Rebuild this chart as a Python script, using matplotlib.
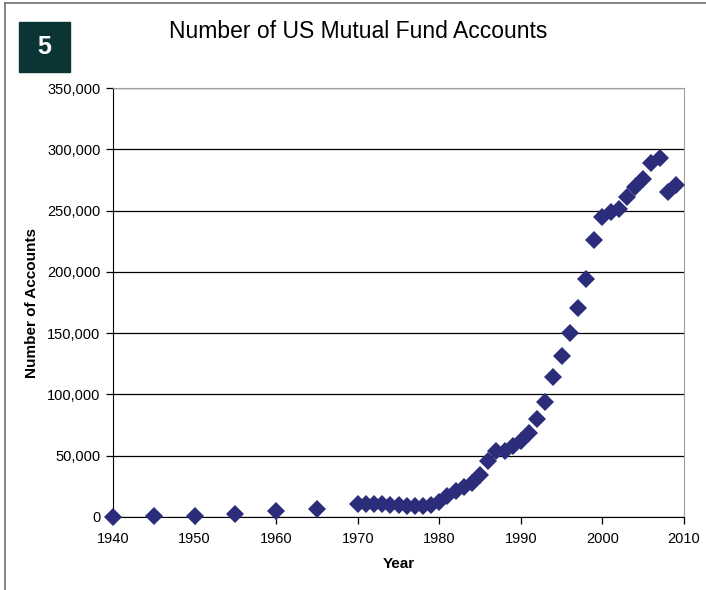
import matplotlib.pyplot as plt
from matplotlib.patches import Rectangle
from matplotlib.lines import Line2D
from matplotlib.ticker import FuncFormatter

plt.rcParams['font.family'] = ['Liberation Sans', 'DejaVu Sans']

years = [1940, 1945, 1950, 1955, 1960, 1965,
         1970, 1971, 1972, 1973, 1974, 1975, 1976, 1977, 1978, 1979,
         1980, 1981, 1982, 1983, 1984, 1985, 1986, 1987, 1988, 1989,
         1990, 1991, 1992, 1993, 1994, 1995, 1996, 1997, 1998, 1999,
         2000, 2001, 2002, 2003, 2004, 2005, 2006, 2007, 2008, 2009]
accounts = [296, 498, 939, 2085, 4898, 6709,
            10690, 10901, 10635, 10331, 10074, 9876, 9060, 8693, 8658, 9790,
            12088, 17499, 21448, 24605, 27636, 34098, 45374, 53717, 54056, 57560,
            61948, 68332, 79931, 94015, 114383, 131219, 150042, 170299, 194029, 226212,
            244705, 248701, 251123, 260698, 269468, 275479, 288596, 292555, 265000, 271000]

title = "Number of US Mutual Fund Accounts"
badge = "5"
navy = '#2b2c7a'

fig = plt.figure(figsize=(7.06, 5.90), dpi=100)
ax = fig.add_axes([113 / 706, 1 - 517 / 590, 571 / 706, 429 / 590])

ax.plot(years, accounts, linestyle='none', marker='D', markersize=9,
        color=navy, markeredgewidth=0, clip_on=False, zorder=3)

ax.set_xlim(1940, 2010)
ax.set_ylim(0, 350000)
ax.set_xticks(range(1940, 2011, 10))
ax.set_yticks(range(0, 350001, 50000))
ax.yaxis.set_major_formatter(FuncFormatter(lambda v, p: f"{int(v):,}"))
ax.grid(axis='y', color='black', linewidth=0.9)
ax.set_axisbelow(True)

for s in ('top', 'right'):
    ax.spines[s].set_color('#a0a0a0')
for s in ('left', 'bottom'):
    ax.spines[s].set_color('black')
ax.tick_params(direction='out', length=5, width=0.9, labelsize=10.5,
               colors='black', pad=4)
ax.tick_params(axis='x', pad=6)

ax.set_xlabel("Year", fontsize=11, fontweight='bold', labelpad=8)
ax.set_ylabel("Number of Accounts", fontsize=11, fontweight='bold', labelpad=6)

fig.text(358 / 706, 1 - 32 / 590, title, fontsize=16.5, ha='center', va='center')

fig.patches.append(Rectangle((19 / 706, 1 - 72 / 590), 51 / 706, 50 / 590,
                             transform=fig.transFigure, color='#0b3434'))
fig.text(44.5 / 706, 1 - 47 / 590, badge, color='white', fontsize=18,
         fontweight='bold', ha='center', va='center')

# outer frame (top and left edges)
fig.lines.append(Line2D([5 / 706, 5 / 706], [0, 1 - 3 / 590], transform=fig.transFigure,
                        color='#707070', linewidth=1.2))
fig.lines.append(Line2D([5 / 706, 1], [1 - 3 / 590, 1 - 3 / 590], transform=fig.transFigure,
                        color='#707070', linewidth=1.2))

fig.savefig('out.png', dpi=100)
